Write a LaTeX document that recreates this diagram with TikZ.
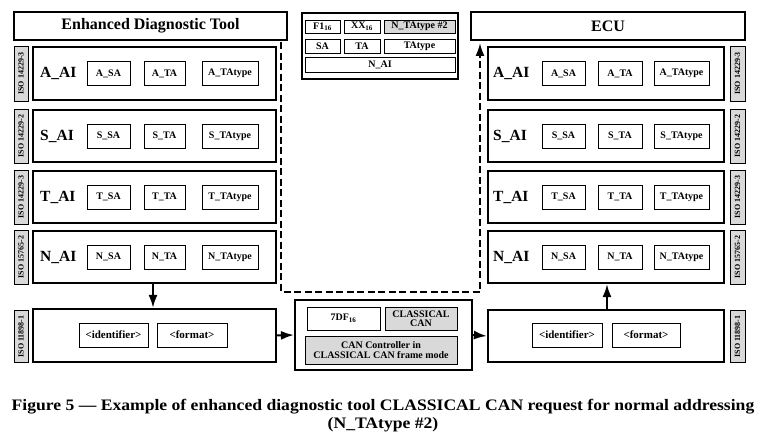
\documentclass[tikz,border=0pt]{standalone}
\usepackage{fontspec}
\setmainfont{Liberation Serif}
\usetikzlibrary{arrows.meta}
\definecolor{stripgray}{HTML}{D9D9D9}
\begin{document}
\begin{tikzpicture}[x=1pt,y=-1pt,
  outer/.style={draw, line width=2.2pt, inner sep=0pt},
  ttl/.style={outer, font=\fontsize{16}{18}\selectfont\bfseries},
  lab/.style={draw, line width=0.9pt, minimum height=24pt, inner sep=0pt, font=\fontsize{10}{11}\selectfont\bfseries},
  small/.style={draw, line width=0.9pt, inner sep=0pt, font=\fontsize{10}{11}\selectfont\bfseries, align=center},
  graybox/.style={small, fill=stripgray},
  layer/.style={anchor=west, inner sep=0pt, font=\fontsize{15.5}{16}\selectfont\bfseries},
  strip/.style={draw, line width=0.8pt, fill=stripgray, inner sep=0pt, font=\fontsize{8}{9}\selectfont\bfseries},
  arr/.style={line width=2pt, -{Latex[length=13pt,width=9pt]}},
  dsh/.style={line width=2pt, dash pattern=on 7pt off 3.5pt}
]
\useasboundingbox[fill=white] (0,0) rectangle (766,446);

% titles
\node[ttl, minimum width=273pt, minimum height=28pt] (titleL) at (150.5,26) {Enhanced Diagnostic Tool};
\node[ttl, minimum width=274pt, minimum height=28pt] (titleR) at (608,26) {ECU};

% stacks
\foreach \n/\p/\y/\h/\iso in {A/A/73.5/53/ISO 14229-3, S/S/136/52/ISO 14229-2, T/T/197/52/ISO 14229-3, N/N/257/52/ISO 15765-2}{
  \node[outer, minimum width=243pt, minimum height=\h pt] (L\n) at (154.5,\y) {};
  \node[layer] (L\n lab) at (40,\y) {\p\_AI};
  \node[lab, minimum width=43pt] (L\n sa) at (108.5,\y) {\p\_SA};
  \node[lab, minimum width=41pt] (L\n ta) at (164.5,\y) {\p\_TA};
  \node[lab, minimum width=56pt] (L\n tt) at (230,\y) {\p\_TAtype};
  \node[strip, minimum width=14pt, minimum height=\h pt+2pt] (L\n iso) at (21,\y) {\rotatebox{90}{\iso}};
  \node[outer, minimum width=236pt, minimum height=\h pt] (R\n) at (606,\y) {};
  \node[layer] (R\n lab) at (493,\y) {\p\_AI};
  \node[lab, minimum width=43pt] (R\n sa) at (563.5,\y) {\p\_SA};
  \node[lab, minimum width=44pt] (R\n ta) at (620,\y) {\p\_TA};
  \node[lab, minimum width=55pt] (R\n tt) at (681.5,\y) {\p\_TAtype};
  \node[strip, minimum width=15pt, minimum height=\h pt+2pt] (R\n iso) at (737.5,\y) {\rotatebox{90}{\iso}};
}

% bottom boxes
\node[outer, minimum width=243pt, minimum height=53pt] (LB) at (154.5,335.5) {};
\node[lab, minimum width=69pt, font=\fontsize{11}{12}\selectfont\bfseries] (Lid) at (113.5,335) {<identifier>};
\node[lab, minimum width=70pt, font=\fontsize{11}{12}\selectfont\bfseries] (Lfm) at (192,335) {<format>};
\node[strip, minimum width=14pt, minimum height=52pt] (LBiso) at (21,336.5) {\rotatebox{90}{ISO 11898-1}};

\node[outer, minimum width=236pt, minimum height=52pt] (RB) at (606,336) {};
\node[lab, minimum width=70pt, font=\fontsize{11}{12}\selectfont\bfseries] (Rid) at (567,335) {<identifier>};
\node[lab, minimum width=68pt, font=\fontsize{11}{12}\selectfont\bfseries] (Rfm) at (646,335) {<format>};
\node[strip, minimum width=15pt, minimum height=52pt] (RBiso) at (737.5,336.5) {\rotatebox{90}{ISO 11898-1}};

% middle top box
\node[outer, minimum width=156pt, minimum height=66pt] (MT) at (380,46) {};
\node[small, minimum width=35pt, minimum height=13pt] (f1) at (322.5,26.5) {F1\textsubscript{16}};
\node[small, minimum width=36pt, minimum height=13pt] (xx) at (362,26.5) {XX\textsubscript{16}};
\node[graybox, minimum width=71pt, minimum height=13pt] (ntt) at (419.5,26.5) {N\_TAtype \#2};
\node[small, minimum width=35pt, minimum height=14pt] (sa) at (322.5,46) {SA};
\node[small, minimum width=36pt, minimum height=14pt] (ta) at (362,46) {TA};
\node[small, minimum width=71pt, minimum height=14pt] (tt) at (419.5,46) {TAtype};
\node[small, minimum width=150pt, minimum height=15pt] (nai) at (380,64.5) {N\_AI};

% middle bottom box
\node[outer, minimum width=177pt, minimum height=70pt] (MB) at (383.5,335) {};
\node[small, minimum width=73pt, minimum height=23pt] (sdf) at (343.5,318.5) {7DF\textsubscript{16}};
\node[graybox, minimum width=72pt, minimum height=23pt] (ccan) at (421,318.5) {CLASSICAL\\[-1.5pt]CAN};
\node[graybox, minimum width=152pt, minimum height=28pt] (ctrl) at (381,350) {CAN Controller in\\[-1.5pt]CLASSICAL CAN frame mode};

% arrows
\draw[arr] (LN.south -| 153,0) -- (LB.north -| 153,0);
\draw[arr] (LB.east) -- (MB.west);
\draw[arr] (MB.east) -- (RB.west);
\draw[arr] (RB.north -| 607,0) -- (RN.south -| 607,0);

% dashed path
\coordinate (d0) at (281,42.5);
\coordinate (d1) at (281,292);
\coordinate (d2) at (480,292);
\coordinate (d3) at (480,43);
\draw[dsh] (d0) -- (d1) -- (d2) -- (480,58);
\draw[line width=2pt, -{Latex[length=13pt,width=9pt]}] (480,58) -- (d3);

% caption
\node[font=\fontsize{16}{18}\selectfont\bfseries] (cap1) at (383,407) {\scalebox{1.10}[1]{Figure 5 — Example of enhanced diagnostic tool CLASSICAL CAN request for normal addressing}};
\node[font=\fontsize{16}{18}\selectfont\bfseries] (cap2) at (383,425) {\scalebox{1.10}[1]{(N\_TAtype \#2)}};
\end{tikzpicture}
\end{document}
